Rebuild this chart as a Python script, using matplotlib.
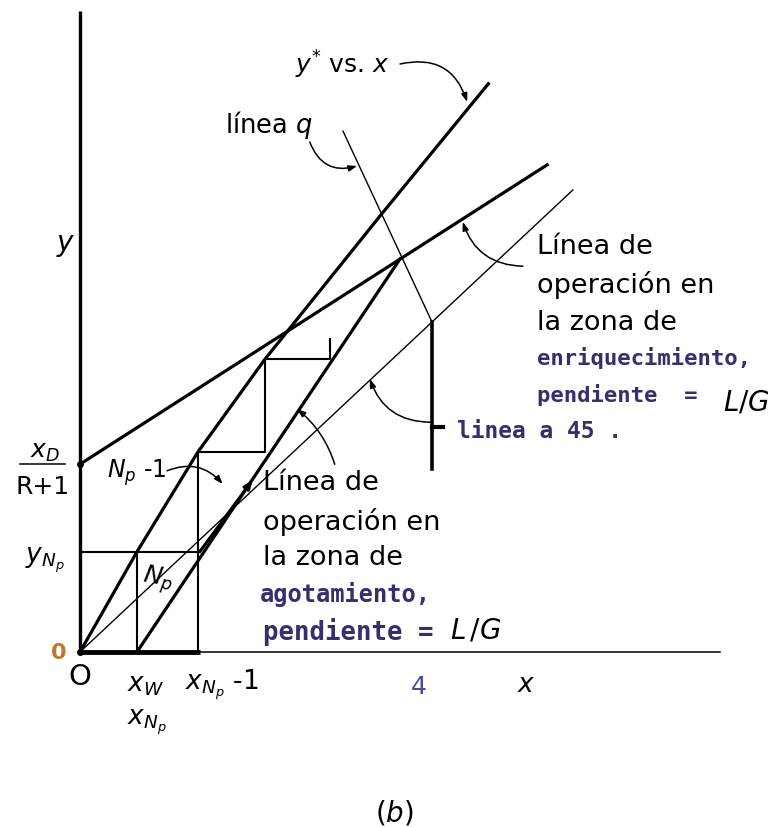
import matplotlib
matplotlib.use("Agg")
import matplotlib.pyplot as plt

plt.rcParams["font.family"] = ["DejaVu Sans"]
plt.rcParams["mathtext.fontset"] = "dejavusans"

INK = "black"
TINT = "#3a2d6e"
MONO = "DejaVu Sans Mono"

# equilibrium curve y* vs x
eq_x = [0.0, 0.089, 0.184, 0.289, 0.469, 0.638]
eq_y = [0.0, 0.167, 0.333, 0.488, 0.727, 0.947]

# operating lines
enrich_x = [0.0, 0.730]
enrich_y = [0.313, 0.812]
strip_x = [0.089, 0.500]
strip_y = [0.0, 0.655]

# diagonal y = x
diag_x = [0.0, 0.770]
diag_y = [0.0, 0.770]

# feed (q) line and the vertical drop at x_F
q_x = [0.411, 0.550]
q_y = [0.868, 0.550]
feed_x = [0.550, 0.550]
feed_y = [0.550, 0.305]

# stage construction
step_x = [0.0, 0.184, 0.184, 0.289, 0.289, 0.391, 0.391]
step_y = [0.167, 0.167, 0.333, 0.333, 0.488, 0.488, 0.522]
xw_drop_x = [0.089, 0.089]
xw_drop_y = [0.0, 0.167]
xn1_drop_x = [0.184, 0.184]
xn1_drop_y = [0.0, 0.167]

fig = plt.figure(figsize=(7.75, 8.28), dpi=100)
ax = fig.add_axes([80 / 775, 175 / 828, 640 / 775, 640 / 828])
ax.set_xlim(0, 1.0)
ax.set_ylim(0, 640 / 600)
ax.axis("off")

# axes
ax.plot([0, 0], [0, 1.068], color=INK, lw=2.4, clip_on=False, solid_capstyle="butt")
ax.plot([0, 1.0], [0, 0], color=INK, lw=1.1, clip_on=False)
ax.plot([0, 0.187], [0, 0], color=INK, lw=3.5, clip_on=False, solid_capstyle="butt")

ax.plot(eq_x, eq_y, color=INK, lw=2.3, clip_on=False)
ax.plot(enrich_x, enrich_y, color=INK, lw=2.3, clip_on=False)
ax.plot(strip_x, strip_y, color=INK, lw=2.3, clip_on=False)
ax.plot(diag_x, diag_y, color=INK, lw=1.0, clip_on=False)
ax.plot(q_x, q_y, color=INK, lw=1.0, clip_on=False)
ax.plot(feed_x, feed_y, color=INK, lw=2.6, clip_on=False)
ax.plot([0.550, 0.567], [0.375, 0.375], color=INK, lw=3.0, clip_on=False)
ax.plot(step_x, step_y, color=INK, lw=1.5, clip_on=False)
ax.plot(xw_drop_x, xw_drop_y, color=INK, lw=1.5, clip_on=False)
ax.plot(xn1_drop_x, xn1_drop_y, color=INK, lw=1.5, clip_on=False)

ax.plot([0, 0], [0.313, 0], "o", color=INK, ms=4, clip_on=False)

arrow_kw = dict(arrowstyle="-|>,head_length=0.5,head_width=0.18", color=INK, lw=1.1,
                shrinkA=0, shrinkB=0)

# pointer arrows
ax.annotate("", xy=(0.605, 0.917), xytext=(0.50, 0.98),
            arrowprops=dict(connectionstyle="arc3,rad=-0.45", **arrow_kw))
ax.annotate("", xy=(0.433, 0.81), xytext=(0.359, 0.85),
            arrowprops=dict(connectionstyle="arc3,rad=0.45", **arrow_kw))
ax.annotate("", xy=(0.598, 0.717), xytext=(0.692, 0.643),
            arrowprops=dict(connectionstyle="arc3,rad=-0.35", **arrow_kw))
ax.annotate("", xy=(0.453, 0.455), xytext=(0.547, 0.383),
            arrowprops=dict(connectionstyle="arc3,rad=-0.35", **arrow_kw))
ax.annotate("", xy=(0.339, 0.405), xytext=(0.398, 0.313),
            arrowprops=dict(connectionstyle="arc3,rad=0.15", **arrow_kw))
ax.annotate("", xy=(0.223, 0.28), xytext=(0.136, 0.302),
            arrowprops=dict(connectionstyle="arc3,rad=-0.35", **arrow_kw))
ax.annotate("", xy=(0.270, 0.287), xytext=(0.187, 0.167),
            arrowprops=dict(arrowstyle="-|>,head_length=0.5,head_width=0.2",
                            color=INK, lw=2.2, shrinkA=0, shrinkB=0))

# labels on the chart
txt = dict(clip_on=False, va="center", ha="left", color=INK)
tint = dict(clip_on=False, va="center", ha="left", color=TINT,
            family=MONO, fontweight="bold")
ax.text(0.336, 0.98, r"$y^{*}$ vs. $x$", fontsize=18, **txt)
ax.text(0.227, 0.88, r"línea $q$", fontsize=18.5, **txt)

enrich_lines = ["Línea de", "operación en", "la zona de"]
for line, y in zip(enrich_lines, [0.677, 0.613, 0.550]):
    ax.text(0.714, y, line, fontsize=19.5, **txt)
ax.text(0.714, 0.492, "enriquecimiento,", fontsize=16, **tint)
ax.text(0.714, 0.430, "pendiente  =", fontsize=16, **tint)
ax.text(1.005, 0.418, r"$L/G$", fontsize=20, **txt)
ax.text(0.589, 0.370, "linea a 45 .", fontsize=16.5, **tint)

strip_lines = ["Línea de", "operación en", "la zona de"]
for line, y in zip(strip_lines, [0.283, 0.218, 0.158]):
    ax.text(0.286, y, line, fontsize=19.5, **txt)
ax.text(0.281, 0.097, "agotamiento,", fontsize=17, **tint)
ax.text(0.286, 0.035, "pendiente =", fontsize=18.5, **tint)
ax.text(0.578, 0.038, r"$\mathbf{\mathit{L\,/G}}$", fontsize=20, **txt)

ax.text(0.042, 0.300, r"$N_p$ -1", fontsize=17, **txt)
ax.text(0.122, 0.122, r"$N_p$", fontsize=18, clip_on=False, va="center",
        ha="center", rotation=-10)

# axis labels
ctr = dict(clip_on=False, va="center", ha="center", color=INK)
ax.text(-0.023, 0.68, r"$y$", fontsize=20, **ctr)
ax.text(0.698, -0.053, r"$x$", fontsize=19, **ctr)
ax.text(0.0, -0.040, "O", fontsize=21, **ctr)
ax.text(-0.034, 0.0, "0", fontsize=16, fontweight="bold", clip_on=False,
        va="center", ha="center", color="#c07830")
ax.text(0.528, -0.057, r"$4$", fontsize=18, clip_on=False, va="center",
        ha="center", color="#4a4a9a")
ax.text(0.073, -0.053, r"$x_W$", fontsize=19, **txt)
ax.text(0.073, -0.115, r"$x_{N_p}$", fontsize=19, **txt)
ax.text(0.164, -0.053, r"$x_{N_p}$ -1", fontsize=19, **txt)

ax.text(-0.055, 0.335, r"$x_D$", fontsize=18, **ctr)
ax.plot([-0.094, -0.023], [0.313, 0.313], color=INK, lw=1.1, clip_on=False)
ax.text(-0.058, 0.277, "R+1", fontsize=18, **ctr)
ax.text(-0.055, 0.155, r"$y_{N_p}$", fontsize=19, **ctr)

ax.text(0.492, -0.267, r"($b$)", fontsize=20, **ctr)

fig.savefig("out.png", dpi=100)
